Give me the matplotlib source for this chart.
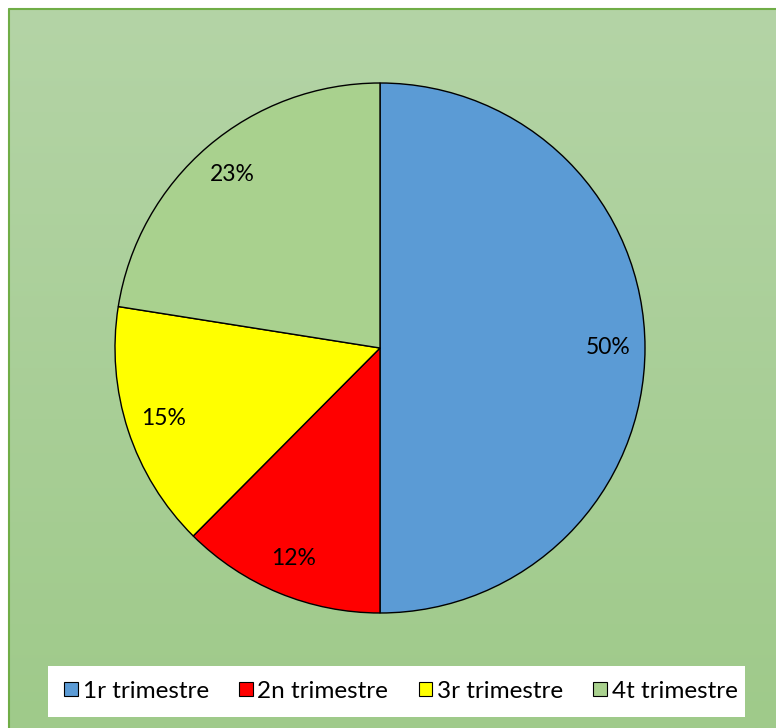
import numpy as np
import matplotlib.pyplot as plt
from matplotlib.patches import Patch, Rectangle

labels = ["1r trimestre", "2n trimestre", "3r trimestre", "4t trimestre"]
values = [50, 12.45, 15.05, 22.5]
colors = ["#5b9bd5", "#ff0000", "#ffff00", "#a9d18e"]

W, H = 776, 728
fig = plt.figure(figsize=(W / 100, H / 100), dpi=100)
fig.patch.set_facecolor("white")
ax = fig.add_axes([0, 0, 1, 1])

# gradient background of the chart area
top = np.array([0xb4, 0xd4, 0xa6]) / 255
bot = np.array([0x9f, 0xca, 0x8a]) / 255
t = np.linspace(0, 1, 256)[:, None]
grad = (top * (1 - t) + bot * t)[:, None, :]
ax.imshow(grad, extent=[8, W, 0, H - 8], aspect="auto", zorder=0)
ax.plot([9, 9, W], [0, H - 9, H - 9], color="#70ad47", lw=1.5, zorder=1)


def pct(p):
    # Excel style rounding (half up)
    return "%d%%" % int(np.floor(p + 0.5 + 1e-6))


wedges, texts, autotexts = ax.pie(
    values, colors=colors, startangle=90, counterclock=False,
    center=(380, H - 348), radius=265, frame=True,
    autopct=pct, pctdistance=0.86,
    wedgeprops=dict(edgecolor="black", linewidth=1),
    textprops=dict(fontsize=16.5, family="Lato", color="black"),
)
ax.set_xlim(0, W)
ax.set_ylim(0, H)
ax.set_aspect("equal")
ax.axis("off")
for w in wedges:
    w.set_zorder(2)

# legend box
ax.add_patch(Rectangle((48, H - 717), 697, 51, facecolor="white", edgecolor="none", zorder=3))
handles = [Patch(facecolor=c, edgecolor="black", linewidth=0.8) for c in colors]
leg = ax.legend(handles, labels, loc="center", bbox_to_anchor=(401, H - 691),
                bbox_transform=ax.transData, ncol=4, frameon=False,
                prop=dict(family="Lato", size=17.5), handlelength=0.55,
                handleheight=0.55, handletextpad=0.2, columnspacing=1.25)
leg.set_zorder(4)

fig.savefig("out.png", dpi=100)
